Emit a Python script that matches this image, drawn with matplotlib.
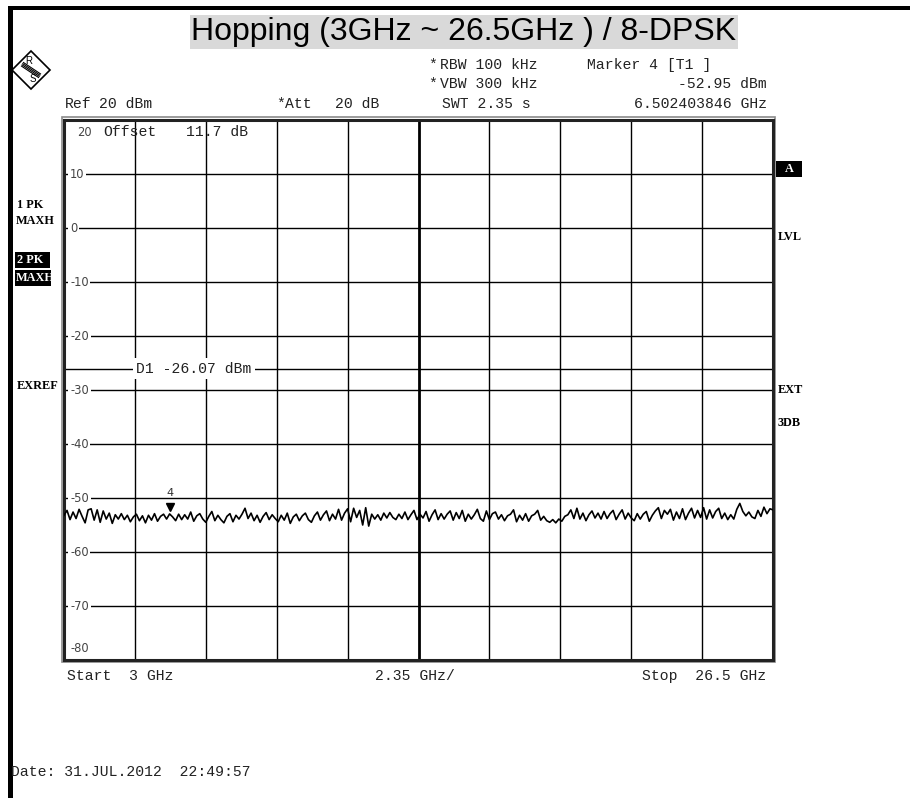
import numpy as np
import matplotlib
matplotlib.use("Agg")
import matplotlib.pyplot as plt
from matplotlib.patches import Rectangle, Polygon

# ---- sweep settings / data ----
start_ghz = 3.0
stop_ghz = 26.5
ref_level = 20
bottom_level = -80
y_ticks = [20, 10, 0, -10, -20, -30, -40, -50, -60, -70, -80]
display_line_dbm = -26.07
marker_freq_ghz = 6.502403846
marker_level_dbm = -52.95

trace_dbm = [
    -53.2, -52.3, -54.0, -52.6, -53.8, -52.1, -53.4, -54.6, -52.2, -52.0,
    -54.1, -52.2, -54.5, -52.4, -53.9, -52.8, -54.7, -53.1, -53.9, -52.9,
    -54.0, -53.2, -54.4, -53.5, -53.0, -54.2, -53.3, -54.6, -53.2, -54.1,
    -52.9, -54.3, -53.4, -53.0, -53.9, -52.95, -53.5, -54.2, -53.0, -54.0,
    -53.1, -53.9, -52.6, -54.3, -53.3, -52.9, -53.9, -54.5, -53.4, -52.5,
    -54.2, -53.2, -54.0, -54.6, -53.4, -52.9, -54.4, -53.2, -53.9, -53.0,
    -51.9, -53.8, -52.8, -54.2, -53.2, -54.5, -53.4, -52.7, -54.0, -53.1,
    -53.8, -54.4, -53.2, -54.1, -52.8, -54.7, -53.5, -53.0, -54.2, -53.3,
    -52.8, -54.0, -54.5, -53.3, -52.6, -54.1, -53.1, -52.4, -54.2, -53.0,
    -53.9, -52.1, -54.1, -52.8, -52.0, -54.4, -51.9, -53.6, -52.3, -55.0,
    -51.8, -55.2, -53.0, -53.9, -53.1, -54.1, -52.8, -53.7, -52.7, -53.6,
    -54.0, -53.0, -53.8, -52.6, -54.0, -53.1, -52.3, -54.0, -53.0, -53.7,
    -52.5, -54.3, -53.1, -52.2, -54.0, -52.9, -53.9, -53.0, -52.4, -54.1,
    -52.7, -53.8, -52.3, -54.3, -53.0, -53.9, -53.1, -52.1, -53.8, -54.3,
    -52.4, -54.0, -52.9, -52.6, -53.9, -53.1, -54.2, -53.3, -53.0, -52.2,
    -54.4, -53.2, -54.1, -52.9, -54.3, -53.3, -53.0, -52.3, -54.1, -53.4,
    -54.2, -54.5, -54.0, -54.6, -53.9, -54.3, -53.4, -53.1, -52.2, -53.8,
    -51.9, -53.9, -52.8, -54.2, -53.1, -52.4, -53.7, -52.8, -53.9, -52.5,
    -53.8, -52.9, -52.3, -54.0, -53.0, -52.2, -53.9, -52.8, -53.7, -54.2,
    -52.9, -53.9, -53.0, -52.5, -54.3, -53.2, -52.4, -51.8, -53.8, -52.3,
    -53.0, -52.1, -54.1, -52.6, -53.8, -52.0, -54.0, -52.8, -51.9, -53.7,
    -52.3, -53.6, -51.8, -53.9, -52.2, -53.7, -52.5, -51.9, -53.8, -52.8,
    -54.0, -53.1, -53.9, -52.1, -51.0, -52.5, -53.3, -52.6, -53.5, -53.8,
    -52.3, -53.4, -51.7, -52.9, -52.0, -52.2,
]

W, H = 910, 798
MONO = "Liberation Mono"
SERIF = "Liberation Serif"

fig = plt.figure(figsize=(W / 100, H / 100), dpi=100)
fig.patch.set_facecolor("white")

# overlay axes in pixel coordinates (origin top-left)
ov = fig.add_axes([0, 0, 1, 1])
ov.set_xlim(0, W)
ov.set_ylim(H, 0)
ov.axis("off")

# page frame
ov.add_patch(Rectangle((8, 6), W - 8, 4, color="black", lw=0))
ov.add_patch(Rectangle((8, 6), 5, H - 6, color="black", lw=0))

# title
ov.text(464, 32, "Hopping (3GHz ~ 26.5GHz ) / 8-DPSK", family="Liberation Sans",
        fontsize=23, ha="center", va="center",
        bbox=dict(boxstyle="square,pad=0.06", fc="#d9d9d9", ec="none"))

# R&S logo
cx, cy, r = 31, 70, 19
ov.add_patch(Polygon([(cx - r, cy), (cx, cy - r), (cx + r, cy), (cx, cy + r)],
                     closed=True, fc="white", ec="black", lw=1.2))
for d in np.linspace(-1.8, 1.8, 4):
    ov.plot([cx - 9 - d * 0.55, cx + 9 - d * 0.55], [cy - 6 + d, cy + 6 + d],
            color="black", lw=0.8, solid_capstyle="butt")
ov.text(cx - 2, cy - 9, "R", family="Liberation Sans", fontsize=7, ha="center", va="center")
ov.text(cx + 2, cy + 9, "S", family="Liberation Sans", fontsize=7, ha="center", va="center")

mono = dict(family=MONO, fontsize=10.6, va="center", color="#222222")
ov.text(65, 104, "Ref", ha="left", **mono)
ov.text(99, 104, "20 dBm", ha="left", **mono)
ov.text(276, 104, "*", ha="left", **mono)
ov.text(285, 104, "Att", ha="left", **mono)
ov.text(335, 104, "20 dB", ha="left", **mono)
ov.text(428, 65, "*", ha="left", **mono)
ov.text(440, 65, "RBW 100 kHz", ha="left", **mono)
ov.text(428, 84, "*", ha="left", **mono)
ov.text(440, 84, "VBW 300 kHz", ha="left", **mono)
ov.text(442, 104, "SWT 2.35 s", ha="left", **mono)
ov.text(587, 65, "Marker 4 [T1 ]", ha="left", **mono)
ov.text(767, 84, f"{marker_level_dbm:.2f} dBm", ha="right", **mono)
ov.text(767, 104, f"{marker_freq_ghz:.9f} GHz", ha="right", **mono)

ov.text(67, 676, f"Start  {start_ghz:g} GHz", ha="left", **mono)
ov.text(375, 676, f"{(stop_ghz - start_ghz) / 10:.2f} GHz/", ha="left", **mono)
ov.text(766, 676, f"Stop  {stop_ghz:g} GHz", ha="right", **mono)
ov.text(11, 772, "Date: 31.JUL.2012  22:49:57", ha="left", **mono)

# side annotations
side = dict(family=SERIF, fontsize=8.8, fontweight="bold", va="center", ha="left")
ov.text(17, 205, "1 PK", **side)
ov.text(16, 221, "MAXH", **side)
ov.add_patch(Rectangle((15, 252), 35, 16, color="black", lw=0))
ov.add_patch(Rectangle((15, 270), 36, 16, color="black", lw=0))
ov.text(17, 260, "2 PK", color="white", **side)
ov.text(16, 278, "MAXH", color="white", **side)
ov.text(17, 386, "EXREF", **side)
ov.add_patch(Rectangle((776, 161), 26, 16, color="black", lw=0))
ov.text(789, 169, "A", color="white", family=SERIF, fontsize=8.8, fontweight="bold",
        ha="center", va="center")
ov.text(778, 237, "LVL", **side)
ov.text(778, 390, "EXT", **side)
ov.text(778, 423, "3DB", **side)

# ---- spectrum axes ----
L, R, T, B = 64, 773, 120, 660
ax = fig.add_axes([L / W, 1 - B / H, (R - L) / W, (B - T) / H])
ax.set_xlim(start_ghz, stop_ghz)
ax.set_ylim(bottom_level, ref_level)
ax.set_xticks([])
ax.set_yticks([])
for s in ax.spines.values():
    s.set_linewidth(2.2)
    s.set_color("#222222")

# grey outer border of the graticule
ov.add_patch(Rectangle((L - 2, T - 3), R - L + 4, B - T + 5, fill=False,
                       ec="#8a8a8a", lw=1.2))

step = (stop_ghz - start_ghz) / 10
for i in range(1, 10):
    xv = start_ghz + i * step
    ax.axvline(xv, color="black", lw=2.0 if i == 5 else 1.0, zorder=1)
for yv in y_ticks[1:-1]:
    ax.axhline(yv, color="black", lw=1.0, zorder=1)

tick_txt = dict(family="DejaVu Sans", fontsize=8.3, color="#444444", va="center",
                ha="left", zorder=3)
ax.text(3.45, 20 - 2.3, "20", **tick_txt)
for yv in y_ticks[1:-1]:
    ax.text(3.2, yv, f"{yv}", bbox=dict(boxstyle="square,pad=0.15", fc="white", ec="none"),
            **tick_txt)
ax.text(3.2, -77.8, "-80", **tick_txt)

ax.text(4.3, 20 - 2.3, "Offset", family=MONO, fontsize=10.6, va="center", ha="left",
        color="#222222", zorder=3)
ax.text(7.05, 20 - 2.3, "11.7 dB", family=MONO, fontsize=10.6, va="center", ha="left",
        color="#222222", zorder=3)

# display line D1
ax.axhline(display_line_dbm, color="black", lw=1.0, zorder=1)
ax.text(5.4, display_line_dbm, f"D1 {display_line_dbm:.2f} dBm", family=MONO,
        fontsize=10.6, va="center", ha="left", zorder=3, color="#222222",
        bbox=dict(boxstyle="square,pad=0.25", fc="white", ec="none"))

# trace
freqs = np.linspace(start_ghz, stop_ghz, len(trace_dbm))
ax.plot(freqs, trace_dbm, color="black", lw=1.2, zorder=4)

# marker 4
ax.plot([marker_freq_ghz], [marker_level_dbm + 1.2], marker="v", color="black",
        markersize=6, zorder=5)
ax.text(marker_freq_ghz, marker_level_dbm + 3.8, "4", family="DejaVu Sans", fontsize=8,
        ha="center", va="center", color="#333333", zorder=5)

fig.savefig("out.png", dpi=100, facecolor="white")
